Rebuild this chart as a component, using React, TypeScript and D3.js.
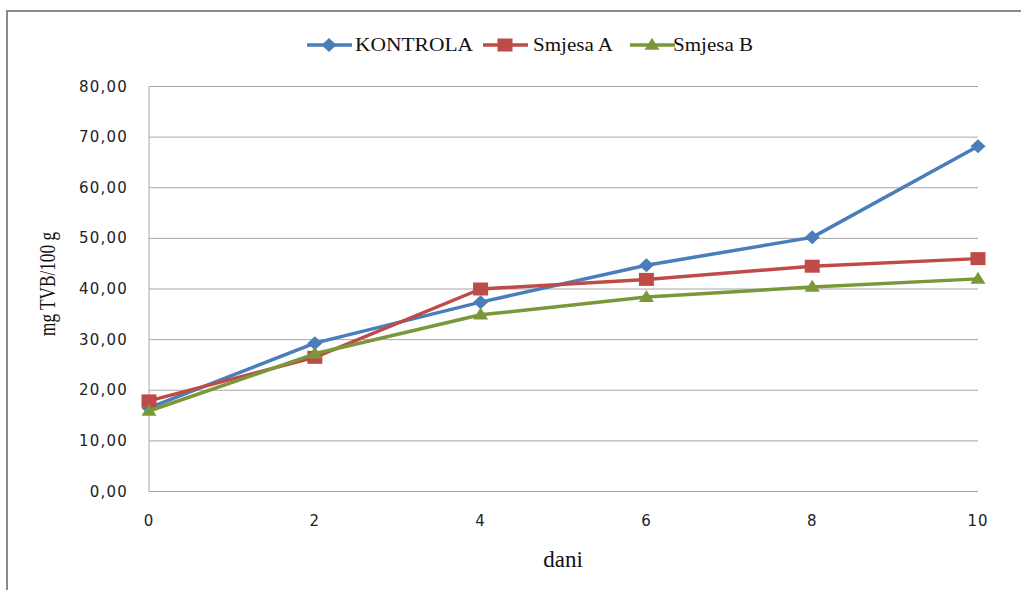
import React from "react";
import * as d3 from "d3";

const days = [0, 2, 4, 6, 8, 10];
const kontrola = [16.5, 29.3, 37.4, 44.7, 50.2, 68.2];
const smjesaA = [17.9, 26.5, 40.0, 41.9, 44.5, 46.0];
const smjesaB = [15.9, 27.2, 34.9, 38.4, 40.4, 42.0];
const yTicks = [0, 10, 20, 30, 40, 50, 60, 70, 80];
const xTicks = [0, 2, 4, 6, 8, 10];

const seriesList = [
  { name: "KONTROLA", values: kontrola, color: "#4A7EBB", marker: "diamond" },
  { name: "Smjesa A", values: smjesaA, color: "#BE4B48", marker: "square" },
  { name: "Smjesa B", values: smjesaB, color: "#7A983A", marker: "triangle" },
];

const W = 1021;
const H = 590;
const left = 149;
const right = 978;
const top = 86.5;
const bottom = 491.5;

function markerPath(type: string, cx: number, cy: number): string {
  if (type === "diamond") {
    const w = 7.5, h = 7;
    return `M${cx},${cy - h}L${cx + w},${cy}L${cx},${cy + h}L${cx - w},${cy}Z`;
  }
  if (type === "square") {
    const w = 7.5, h = 6.5;
    return `M${cx - w},${cy - h}H${cx + w}V${cy + h}H${cx - w}Z`;
  }
  const w = 7.5, h = 12;
  return `M${cx},${cy - h * 0.6}L${cx + w},${cy + h * 0.4}L${cx - w},${cy + h * 0.4}Z`;
}

export default function App() {
  const x = d3.scaleLinear().domain([0, 10]).range([left, right]);
  const y = d3.scaleLinear().domain([0, 80]).range([bottom, top]);
  const line = d3
    .line<number>()
    .x((_, i) => x(days[i]))
    .y((d) => y(d));

  const fmt = (v: number) => v.toFixed(2).replace(".", ",");

  const legendItems = [
    { lx: 307, tx: 355, tw: 118 },
    { lx: 483, tx: 533, tw: 80 },
    { lx: 630, tx: 673, tw: 80 },
  ];
  const legendY = 45;

  return (
    <svg
      width={W}
      height={H}
      style={{ position: "absolute", left: 0, top: 0, background: "#fff" }}
    >
      <rect x={0} y={0} width={W} height={H} fill="#fff" />
      {/* outer border */}
      <path d={`M7,${H}V11H${W}`} fill="none" stroke="#8a8a8a" strokeWidth={2} />

      {/* gridlines */}
      {yTicks.map((t) => (
        <line
          key={t}
          x1={left}
          x2={right}
          y1={y(t)}
          y2={y(t)}
          stroke="#a6a6a6"
          strokeWidth={1}
        />
      ))}
      <line x1={left} x2={left} y1={top} y2={bottom} stroke="#a6a6a6" strokeWidth={1} />

      {/* y tick labels */}
      {yTicks.map((t) => (
        <text
          key={t}
          x={128}
          y={y(t)}
          textAnchor="end"
          dominantBaseline="central"
          fontFamily="DejaVu Sans, Verdana, sans-serif"
          fontSize={15}
          letterSpacing={1.2}
          fill="#222"
        >
          {fmt(t)}
        </text>
      ))}

      {/* x tick labels */}
      {xTicks.map((t) => (
        <text
          key={t}
          x={x(t)}
          y={521}
          textAnchor="middle"
          dominantBaseline="central"
          fontFamily="DejaVu Sans, Verdana, sans-serif"
          fontSize={15}
          letterSpacing={1}
          fill="#222"
        >
          {t}
        </text>
      ))}

      {/* axis titles */}
      <text
        x={563}
        y={567}
        textAnchor="middle"
        fontFamily="Liberation Serif, Times New Roman, serif"
        fontSize={23}
        fill="#111"
      >
        dani
      </text>
      <text
        transform={`translate(55,284) rotate(-90)`}
        textAnchor="middle"
        fontFamily="Liberation Serif, Times New Roman, serif"
        fontSize={24}
        textLength={104}
        lengthAdjust="spacingAndGlyphs"
        fill="#111"
      >
        mg TVB/100 g
      </text>

      {/* series */}
      {seriesList.map((s) => (
        <g key={s.name}>
          <path
            d={line(s.values) || ""}
            fill="none"
            stroke={s.color}
            strokeWidth={3.5}
            strokeLinejoin="round"
          />
          {s.values.map((v, i) => (
            <path key={i} d={markerPath(s.marker, x(days[i]), y(v))} fill={s.color} />
          ))}
        </g>
      ))}

      {/* legend */}
      {seriesList.map((s, i) => {
        const it = legendItems[i];
        const mx = it.lx + 22;
        return (
          <g key={s.name}>
            <line
              x1={it.lx}
              x2={it.lx + 45}
              y1={legendY}
              y2={legendY}
              stroke={s.color}
              strokeWidth={3.5}
            />
            <path d={markerPath(s.marker, mx, legendY)} fill={s.color} />
            <text
              x={it.tx}
              y={legendY + 6}
              fontFamily="Liberation Serif, Times New Roman, serif"
              fontSize={18}
              textLength={it.tw}
              lengthAdjust="spacingAndGlyphs"
              fill="#111"
            >
              {s.name}
            </text>
          </g>
        );
      })}
    </svg>
  );
}
